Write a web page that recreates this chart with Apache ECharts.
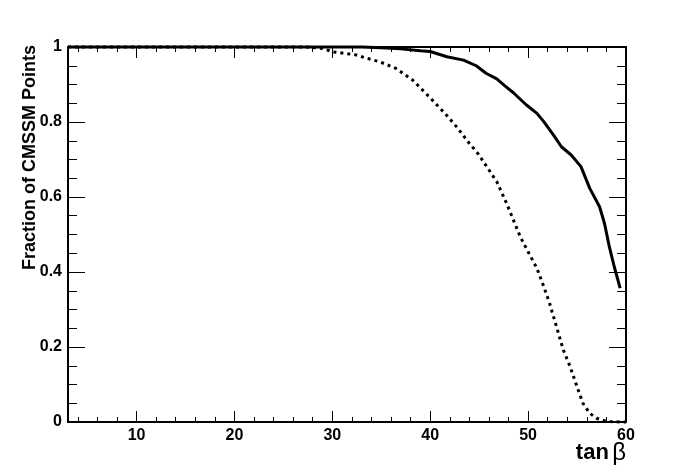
<!DOCTYPE html>
<html>
<head>
<meta charset="utf-8">
<script src="https://cdn.jsdelivr.net/npm/echarts@6/dist/echarts.min.js"></script>
<style>html,body{margin:0;padding:0;background:#fff}#c{width:696px;height:472px}</style>
</head>
<body>
<div id="c"></div>
<script>
var solidX = [3, 33, 35, 37, 39, 40, 41.7, 43.4, 44.7, 45.7, 46.8, 47.6, 48.5, 49.8, 50.9, 51.6, 52.6, 53.4, 54.4, 55.4, 56.3, 57.3, 57.8, 58.3, 58.8, 59.4];
var solidY = [1, 1, 0.998, 0.995, 0.99, 0.988, 0.974, 0.965, 0.95, 0.93, 0.915, 0.897, 0.878, 0.846, 0.823, 0.801, 0.765, 0.734, 0.712, 0.681, 0.623, 0.574, 0.53, 0.467, 0.414, 0.357];
var dottedX = [3, 27, 28, 29, 30.1, 31, 32.4, 33.5, 34.8, 36.5, 38.2, 39.9, 41.5, 42.7, 44.0, 44.9, 45.8, 46.8, 47.8, 49.2, 50.0, 50.9, 51.6, 52.2, 52.9, 53.6, 54.3, 55.0, 55.6, 56.3, 57.0, 57.7, 58.4, 59.4, 60];
var dottedY = [1, 1, 0.999, 0.996, 0.987, 0.984, 0.979, 0.97, 0.961, 0.943, 0.912, 0.867, 0.823, 0.787, 0.743, 0.715, 0.68, 0.641, 0.583, 0.494, 0.454, 0.41, 0.361, 0.316, 0.254, 0.192, 0.147, 0.094, 0.05, 0.023, 0.01, 0.004, 0.001, 0, 0];
var xMajorTicks = [10, 20, 30, 40, 50, 60];
var xMinorTicks = [4, 6, 8, 12, 14, 16, 18, 22, 24, 26, 28, 32, 34, 36, 38, 42, 44, 46, 48, 52, 54, 56, 58];
var xTitle = 'tan';
var xTitleSymbol = 'β';
var yTitle = 'Fraction of CMSSM Points';

function zip(a, b) { return a.map(function (v, i) { return [v, b[i]]; }); }

var FONT = '"Liberation Sans", Arial, Helvetica, sans-serif';
var chart = echarts.init(document.getElementById('c'), null, {renderer: 'canvas'});

function xAx(pos, ticks, len, showLine, showLabel) {
  return {
    type: 'value', min: 3, max: 60, position: pos,
    axisLine: {show: showLine, onZero: false, lineStyle: {color: '#000', width: 2}},
    axisTick: {show: true, inside: true, length: len, customValues: ticks, lineStyle: {color: '#000', width: 1}},
    axisLabel: showLabel ? {show: true, customValues: xMajorTicks, color: '#000', fontFamily: FONT, fontWeight: 'bold', fontSize: 16, margin: 6} : {show: false},
    splitLine: {show: false}
  };
}
function yAx(pos, showLabel) {
  return {
    type: 'value', min: 0, max: 1, interval: 0.2, position: pos,
    axisLine: {show: true, onZero: false, lineStyle: {color: '#000', width: 2}},
    axisTick: {show: true, inside: true, length: 17, lineStyle: {color: '#000', width: 1}},
    minorTick: {show: true, splitNumber: 4, length: 9, lineStyle: {color: '#000', width: 1}},
    axisLabel: showLabel ? {show: true, color: '#000', fontFamily: FONT, fontWeight: 'bold', fontSize: 16, margin: 6,
      formatter: function (v) { return (v === 0 || v === 1) ? String(v) : v.toFixed(1); }} : {show: false},
    splitLine: {show: false}, minorSplitLine: {show: false}
  };
}

var xA0 = xAx('bottom', xMajorTicks, 11, true, true);
xA0.name = '{a|' + xTitle + '} {b|' + xTitleSymbol + '}';
xA0.nameLocation = 'end';
xA0.nameGap = 0;
xA0.nameMoveOverlap = false;
xA0.nameTextStyle = {align: 'right', verticalAlign: 'top', padding: [19, 0, 0, 0], color: '#000',
  rich: {a: {fontFamily: FONT, fontWeight: 'bold', fontSize: 22, color: '#000'},
         b: {fontFamily: FONT, fontWeight: 'normal', fontSize: 24, color: '#000'}}};

var yA0 = yAx('left', true);
yA0.name = yTitle;
yA0.nameLocation = 'end';
yA0.nameRotate = 90;
yA0.nameGap = 2;
yA0.nameMoveOverlap = false;
yA0.nameTextStyle = {align: 'right', verticalAlign: 'bottom', padding: [0, 0, 29, 0], color: '#000',
  fontFamily: FONT, fontWeight: 'bold', fontSize: 18};

chart.setOption({
  animation: false,
  backgroundColor: '#fff',
  grid: {left: 68, right: 70, top: 47, bottom: 50, containLabel: false, outerBoundsMode: 'none'},
  xAxis: [
    xA0,
    xAx('bottom', xMinorTicks, 5, false, false),
    xAx('top', xMajorTicks, 11, true, false),
    xAx('top', xMinorTicks, 5, false, false)
  ],
  yAxis: [yA0, yAx('right', false)],
  series: [
    {type: 'line', xAxisIndex: 0, yAxisIndex: 0, data: zip(solidX, solidY), showSymbol: false, clip: false,
     lineStyle: {color: '#000', width: 3, type: 'solid'}},
    {type: 'line', xAxisIndex: 0, yAxisIndex: 0, data: zip(dottedX, dottedY), showSymbol: false, clip: false,
     lineStyle: {color: '#000', width: 3, type: [3, 4], cap: 'butt'}}
  ]
});
</script>
</body>
</html>
